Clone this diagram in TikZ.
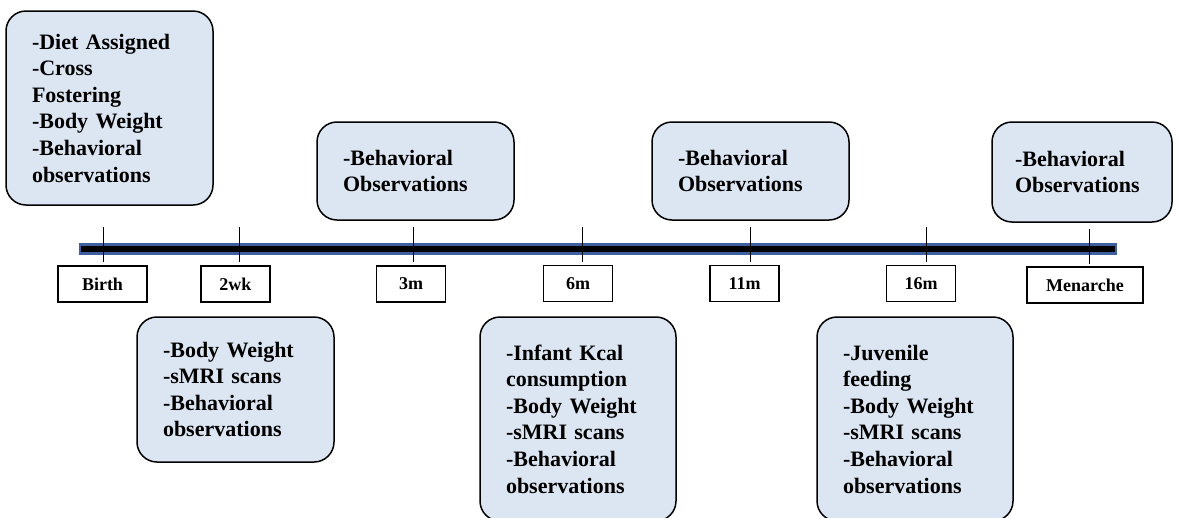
\documentclass[tikz,border=0pt]{standalone}
\usepackage{fontspec}
\setmainfont{Liberation Serif}
\definecolor{boxfill}{RGB}{220,230,242}
\definecolor{barblue}{RGB}{62,96,160}
\tikzset{
  evbox/.style={draw=black, line width=1.5pt, rounded corners=20pt, fill=boxfill,
    align=left, inner xsep=26pt, inner ysep=0pt, text width=#1-52pt,
    font=\fontsize{22}{26.6}\selectfont\bfseries},
  lblbox/.style={draw=black, line width=1.1pt, fill=white, inner sep=0pt,
    minimum height=36pt, font=\fontsize{18}{20}\selectfont\bfseries},
  tick/.style={draw=black, line width=0.9pt}
}
\begin{document}
\begin{tikzpicture}[x=1pt,y=-1pt]
\useasboundingbox (0,0) rectangle (1180,517);
% timeline bar
\draw[draw=barblue, line width=2.5pt, fill=black] (80,244.5) rectangle (1116,253.5);
% label boxes
\node[lblbox, minimum width=89pt] (birth) at (102.5,284) {Birth};
\node[lblbox, minimum width=69pt] (wk2) at (235.5,284) {2wk};
\node[lblbox, minimum width=69pt] (m3) at (411,284) {3m};
\node[lblbox, minimum width=69pt] (m6) at (578,283.5) {6m};
\node[lblbox, minimum width=69pt] (m11) at (744.5,283.5) {11m};
\node[lblbox, minimum width=69pt] (m16) at (921,283.5) {16m};
\node[lblbox, minimum width=116pt] (men) at (1085,285) {Menarche};
% ticks
\foreach \n/\x/\a/\b in {t1/103/227/262, t2/239/227/262, t3/413/227/262, t4/582/227/262, t5/750/227/262, t6/926/227/262, t7/1089/229/264}{
  \coordinate (\n a) at (\x,\a);
  \coordinate (\n b) at (\x,\b);
  \draw[tick] (\n a) -- (\n b);
}
% top boxes
\node[evbox=207pt, minimum height=194pt] (b1) at (109.5,108)
  {-Diet Assigned\\-Cross\\Fostering\\-Body Weight\\-Behavioral\\observations};
\node[evbox=197pt, minimum height=98pt] (b2) at (415.5,171)
  {-Behavioral\\Observations};
\node[evbox=197pt, minimum height=98pt] (b3) at (750.5,171)
  {-Behavioral\\Observations};
\node[evbox=180pt, minimum height=100pt, inner xsep=23pt, text width=134pt] (b4) at (1082,172)
  {-Behavioral\\Observations};
% bottom boxes
\node[evbox=197pt, minimum height=145pt] (b5) at (235.5,389.5)
  {-Body Weight\\-sMRI scans\\-Behavioral\\observations};
\node[evbox=196pt, minimum height=204pt] (b6) at (578,419)
  {-Infant Kcal\\consumption\\-Body Weight\\-sMRI scans\\-Behavioral\\observations};
\node[evbox=196pt, minimum height=204pt] (b7) at (915,419)
  {-Juvenile\\feeding\\-Body Weight\\-sMRI scans\\-Behavioral\\observations};
\end{tikzpicture}
\end{document}
